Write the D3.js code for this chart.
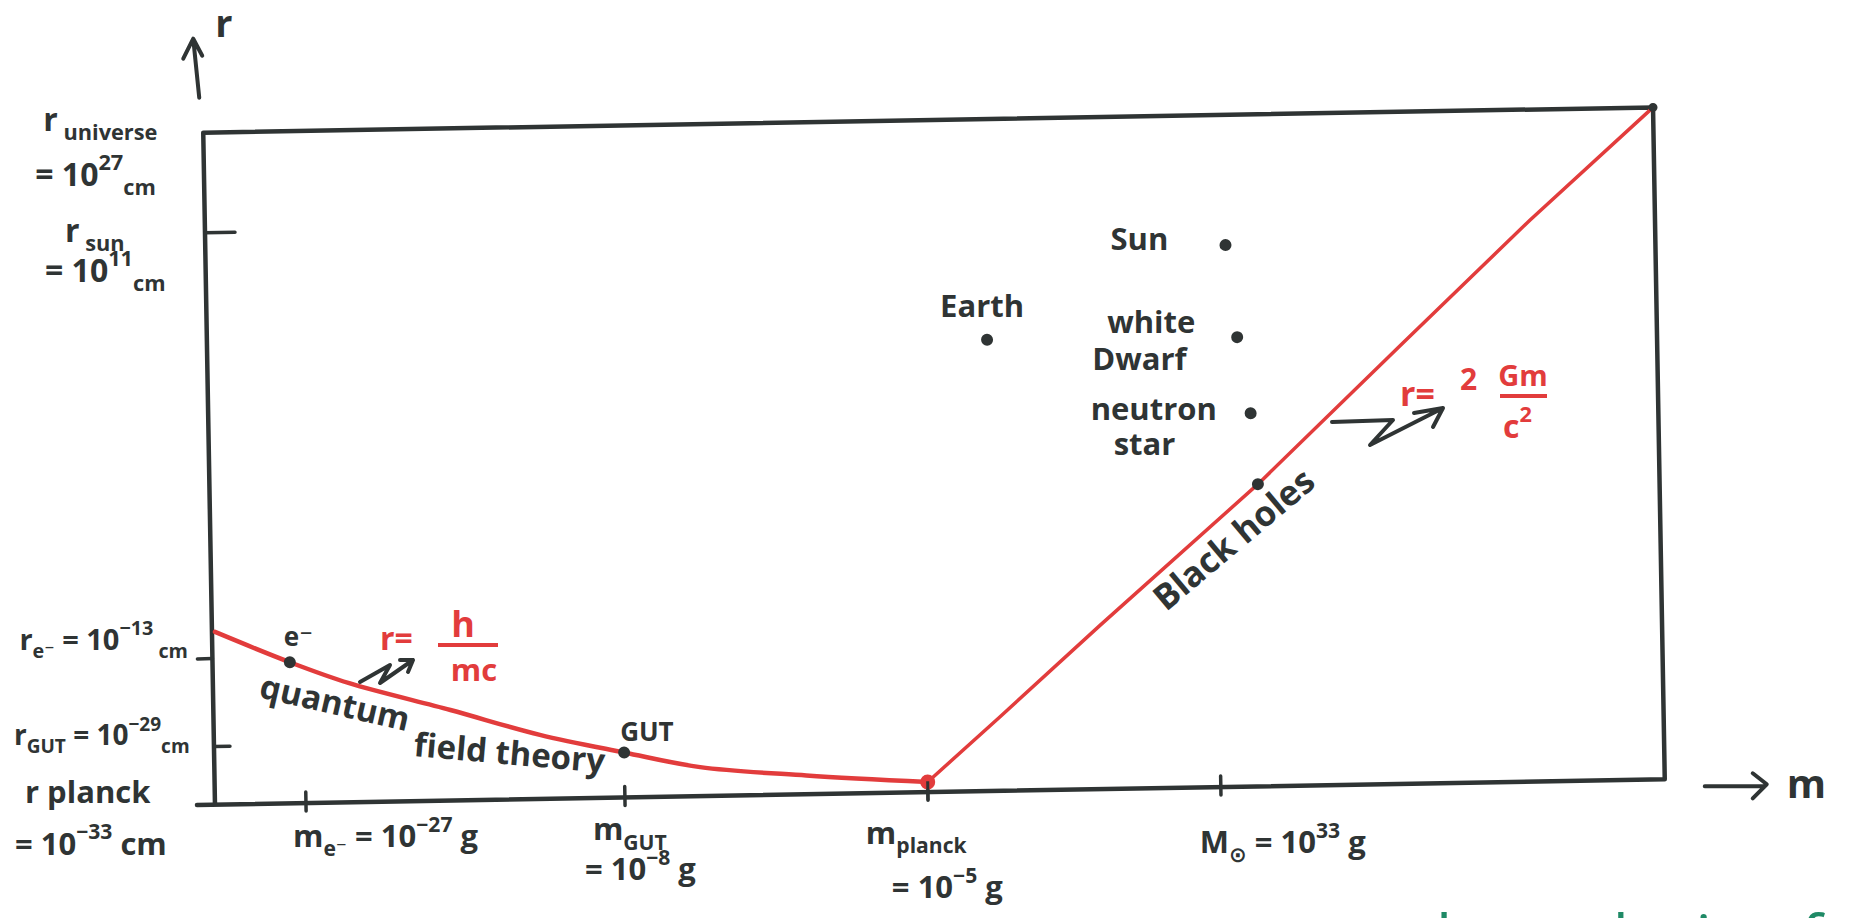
<!DOCTYPE html>
<html>
<head>
<meta charset="utf-8">
<script src="https://cdn.jsdelivr.net/npm/d3@7"></script>
<style>
  html, body { margin: 0; padding: 0; background: #fff; overflow: hidden; }
  text { font-family: "Open Sans", "DejaVu Sans", sans-serif; font-weight: 700; }
</style>
</head>
<body>
<div id="chart"></div>
<script>
// x: log10(m / g), y: log10(r / cm)
const massTicks = [-27, -8, -5, 33];
const massTickLabels = [
    [[["m"], ["e⁻", "sub"], [" = 10"], ["−27", "sup"], [" g"]]],
    [[["m"], ["GUT", "sub"]], [["= 10"], ["−8", "sup"], [" g"]]],
    [[["m"], ["planck", "sub"]], [["= 10"], ["−5", "sup"], [" g"]]],
    [[["M"], ["⊙", "sub"], [" = 10"], ["33", "sup"], [" g"]]]
];
const radiusTicks = [27, 11, -13, -29, -33];
const radiusTickLabels = [
    [[["r"], [" universe", "sub"]], [["= 10"], ["27", "sup"], ["cm", "sub"]]],
    [[["r"], [" sun", "sub"]], [["= 10"], ["11", "sup"], ["cm", "sub"]]],
    [[["r"], ["e⁻", "sub"], [" = 10"], ["−13", "sup"], [" cm", "sub"]]],
    [[["r"], ["GUT", "sub"], [" = 10"], ["−29", "sup"], ["cm", "sub"]]],
    [[["r"], [" planck"]], [["= 10"], ["−33", "sup"], [" cm"]]]
];
const massRange = [-33, 55];

// r = h / mc  (quantum field theory branch)
const comptonM = [-32.8, -27.9, -24.3, -18.3, -13.0, -8.0, -7.25, -6.2, -5.0];
const comptonR = [-11.5, -13.9, -17.9, -23.1, -27.9, -29.9, -31.0, -31.7, -32.3];
// r = 2Gm / c^2  (black holes)
const schwarzM = [-5.0, 4.5, 17.7, 35.1, 42.3, 48.8, 55];
const schwarzR = [-32.3, -26.1, -12.0, -4.2, 3.5, 10.4, 27];

const objectNames = ["e⁻", "GUT", "Earth", "Sun", "white|Dwarf", "neutron|star", "Black holes"];
const objectMass = [-27.9, -8.0, 3.7, 33.7, 34.2, 34.8, 35.1];
const objectRadius = [-13.9, -29.9, 4.2, 9.3, 4.1, -0.2, -4.2];
const planckPoint = [-5.0, -32.3];

const W = 1853, H = 918;
const ink = "#2f3434", red = "#e23c3c", green = "#1f8a66";
const pL = 209, pR = 1659, pT = 120, pB = 792;
const cx = (pL + pR) / 2, cy = (pT + pB) / 2, tilt = -1;

// hand drawn axes are not evenly spaced -> piecewise scales
const x = d3.scaleLinear()
    .domain([massRange[0], -27, -8, -5, 33, massRange[1]])
    .range([pL, 300, 619, 922, 1215, pR]);
const y = d3.scaleLinear()
    .domain([-33, -29, -13, 11, 27])
    .range([pB, 734, 646, 220, pT]);

function toScreen(px, py) {
    const a = tilt * Math.PI / 180, dx = px - cx, dy = py - cy;
    return [cx + dx * Math.cos(a) - dy * Math.sin(a), cy + dx * Math.sin(a) + dy * Math.cos(a)];
}

function richText(sel, px, py, parts, size, color) {
    const t = sel.append("text").attr("x", px).attr("y", py)
        .attr("fill", color).style("font-size", size + "px");
    let shift = 0;
    parts.forEach(([str, kind]) => {
        const target = kind === "sub" ? size * 0.3 : kind === "sup" ? -size * 0.5 : 0;
        t.append("tspan").attr("dy", target - shift)
            .style("font-size", (kind ? size * 0.68 : size) + "px").text(str);
        shift = target;
    });
    return t;
}

const svg = d3.select("#chart").append("svg").attr("width", W).attr("height", H);
const plot = svg.append("g").attr("transform", `rotate(${tilt},${cx},${cy})`);
const labels = svg.append("g");

// frame
plot.append("path")
    .attr("d", `M${pL - 18},${pB}H${pR}V${pT}H${pL}V${pB}`)
    .attr("fill", "none").attr("stroke", ink).attr("stroke-width", 4.5)
    .attr("stroke-linejoin", "round").attr("stroke-linecap", "round");

// ticks
plot.selectAll(".xtick").data(massTicks).enter().append("line")
    .attr("x1", d => x(d)).attr("x2", d => x(d))
    .attr("y1", pB - 11).attr("y2", pB + 8)
    .attr("stroke", ink).attr("stroke-width", 3.5).attr("stroke-linecap", "round");
const yTickSpan = { 11: [0, 30], "-13": [-15, 0], "-29": [0, 16] };
plot.selectAll(".ytick").data([11, -13, -29]).enter().append("line")
    .attr("x1", d => pL + yTickSpan[d][0]).attr("x2", d => pL + yTickSpan[d][1])
    .attr("y1", d => y(d)).attr("y2", d => y(d))
    .attr("stroke", ink).attr("stroke-width", 3.5).attr("stroke-linecap", "round");

// curves
const compton = comptonM.map((m, i) => [m, comptonR[i]]);
const schwarz = schwarzM.map((m, i) => [m, schwarzR[i]]);
plot.append("path").datum(compton)
    .attr("d", d3.line().x(d => x(d[0])).y(d => y(d[1])).curve(d3.curveCatmullRom))
    .attr("fill", "none").attr("stroke", red).attr("stroke-width", 4.5).attr("stroke-linecap", "round");
plot.append("path").datum(schwarz)
    .attr("d", d3.line().x(d => x(d[0])).y(d => y(d[1])))
    .attr("fill", "none").attr("stroke", red).attr("stroke-width", 3.5)
    .attr("stroke-linejoin", "round").attr("stroke-linecap", "round");
plot.append("circle").attr("cx", x(planckPoint[0])).attr("cy", y(planckPoint[1]))
    .attr("r", 7.5).attr("fill", red);
plot.append("line").attr("x1", x(-5)).attr("x2", x(-5))
    .attr("y1", pB - 11).attr("y2", pB + 8)
    .attr("stroke", ink).attr("stroke-width", 3);
plot.append("circle").attr("cx", x(massRange[1])).attr("cy", pT).attr("r", 4.5).attr("fill", ink);

// objects
plot.selectAll(".obj").data(objectNames).enter().append("circle")
    .attr("cx", (d, i) => x(objectMass[i])).attr("cy", (d, i) => y(objectRadius[i]))
    .attr("r", 6).attr("fill", ink);

// axis arrows
const tl = toScreen(pL, pT);
labels.append("path")
    .attr("d", `M${tl[0] - 4},${tl[1] - 35}L${tl[0] - 10},${tl[1] - 94}M${tl[0] - 20},${tl[1] - 74}L${tl[0] - 10},${tl[1] - 94}L${tl[0] - 1},${tl[1] - 77}`)
    .attr("fill", "none").attr("stroke", ink).attr("stroke-width", 4)
    .attr("stroke-linecap", "round").attr("stroke-linejoin", "round");
labels.append("text").attr("x", tl[0] + 12).attr("y", tl[1] - 96)
    .attr("fill", ink).style("font-size", "38px").text("r");
const br = toScreen(pR, pB);
labels.append("path")
    .attr("d", `M${br[0] + 40},${br[1] + 7}H${br[0] + 100}M${br[0] + 88},${br[1] - 6}L${br[0] + 102},${br[1] + 5}L${br[0] + 88},${br[1] + 19}`)
    .attr("fill", "none").attr("stroke", ink).attr("stroke-width", 4)
    .attr("stroke-linecap", "round").attr("stroke-linejoin", "round");
labels.append("text").attr("x", br[0] + 122).attr("y", br[1] + 19)
    .attr("fill", ink).style("font-size", "40px").text("m");

// tick labels
const yLabelSize = [32, 32, 29, 28, 31];
const yLabelOffsets = [[[-160, -2], [-168, 53]], [[-140, 9], [-160, 49]], [[-193, -9]], [[-200, -2]], [[-190, -2], [-200, 50]]];
radiusTicks.forEach((v, i) => {
    const p = toScreen(pL, y(v));
    radiusTickLabels[i].forEach((line, j) => {
        const o = yLabelOffsets[i][j];
        richText(labels, p[0] + o[0], p[1] + o[1], line, yLabelSize[i], ink);
    });
});
const xLabelOffsets = [[[-13, 44]], [[-32, 43], [-40, 83]], [[-62, 52], [-36, 106]], [[-21, 66]]];
massTicks.forEach((v, i) => {
    const p = toScreen(x(v), pB);
    massTickLabels[i].forEach((line, j) => {
        const o = xLabelOffsets[i][j];
        richText(labels, p[0] + o[0], p[1] + o[1], line, 31, ink);
    });
});

// object labels
const objLabelOffsets = [[[-6, -16]], [[-4, -12]], [[-47, -23]], [[-115, 5]], [[-130, -4], [-145, 33]], [[-160, 7], [-137, 42]]];
objectNames.slice(0, 6).forEach((name, i) => {
    const p = toScreen(x(objectMass[i]), y(objectRadius[i]));
    name.split("|").forEach((part, j) => {
        const o = objLabelOffsets[i][j];
        labels.append("text").attr("x", p[0] + o[0]).attr("y", p[1] + o[1])
            .attr("fill", ink).style("font-size", i < 2 ? "26px" : "31px").text(part);
    });
});
const bh = toScreen(x(objectMass[6]), y(objectRadius[6]));
labels.append("text").attr("transform", `translate(${bh[0] - 92},${bh[1] + 128}) rotate(-40)`)
    .attr("fill", ink).style("font-size", "35px").text(objectNames[6]);
labels.append("text").attr("transform", "translate(258,697) rotate(13)")
    .attr("fill", ink).style("font-size", "33px").text("quantum");
labels.append("text").attr("transform", "translate(413,756) rotate(5)")
    .attr("fill", ink).style("font-size", "33px").text("field theory");

// formulas
const f = labels.append("g").attr("fill", red);
f.append("text").attr("x", 380).attr("y", 650).style("font-size", "32px").text("r=");
f.append("text").attr("x", 463).attr("y", 637).attr("text-anchor", "middle").style("font-size", "36px").text("h");
f.append("line").attr("x1", 438).attr("x2", 498).attr("y1", 645).attr("y2", 645).attr("stroke", red).attr("stroke-width", 4);
f.append("text").attr("x", 474).attr("y", 681).attr("text-anchor", "middle").style("font-size", "31px").text("mc");
f.append("text").attr("x", 1400).attr("y", 406).style("font-size", "34px").text("r=");
f.append("text").attr("x", 1460).attr("y", 390).style("font-size", "30px").text("2");
f.append("text").attr("x", 1523).attr("y", 386).attr("text-anchor", "middle").style("font-size", "29px").text("Gm");
f.append("line").attr("x1", 1500).attr("x2", 1547).attr("y1", 396).attr("y2", 396).attr("stroke", red).attr("stroke-width", 4);
richText(f, 1503, 438, [["c"], ["2", "sup"]], 32, red);

// squiggle arrows
const squiggle = [
    "M360,682L390,665L380,683L413,660M400,660L413,660L408,672",
    "M1332,422L1393,420L1370,445L1443,408M1414,413L1443,408L1433,427"
];
labels.selectAll(".sq").data(squiggle).enter().append("path")
    .attr("d", d => d).attr("fill", "none").attr("stroke", ink).attr("stroke-width", 4)
    .attr("stroke-linecap", "round").attr("stroke-linejoin", "round");

// cut-off green note at the bottom (only ascenders show)
const note = labels.append("text").attr("y", 961).attr("fill", green)
    .style("font-size", "64px").style("font-weight", "400");
[["low", 1436], ["the", 1590], ["site", 1665], ["of", 1762]].forEach(([w, px]) =>
    note.append("tspan").attr("x", px).text(w));
</script>
</body>
</html>
